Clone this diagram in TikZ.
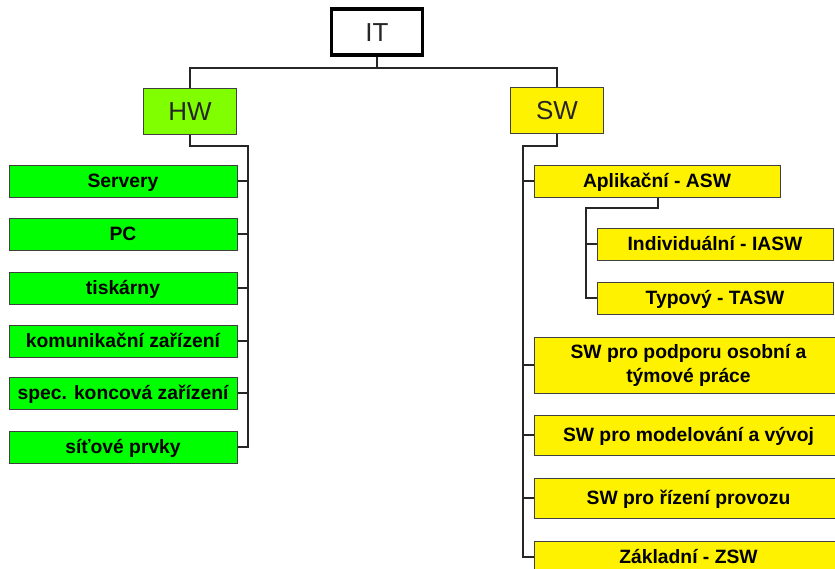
\documentclass[tikz,border=0pt]{standalone}
\usepackage{fontspec}
\setmainfont{Liberation Sans}
\begin{document}
\begin{tikzpicture}[x=1pt,y=-1pt,
  box/.style={draw=black!75,line width=1pt,inner sep=0pt,align=center},
  head/.style={box,font=\fontsize{26}{30}\selectfont,text=black!85,minimum width=93,minimum height=46,text height=18.6pt,text depth=0pt},
  oneline/.style={text height=13.8pt,text depth=0pt},
  leaf/.style={box,oneline,fill=green,font=\fontsize{19.3}{24}\selectfont\bfseries,minimum width=228,minimum height=32},
  sleaf/.style={box,fill=yellow,font=\fontsize{19.3}{24}\selectfont\bfseries,minimum height=32},
  conn/.style={draw=black!85,line width=1.7pt}]
\useasboundingbox (0,0) rectangle (835,568);
\clip (0,0) rectangle (835,568);
% heads
\node[head,fill=white,draw=black,line width=3.2pt,minimum width=91] (IT) at (377,32) {IT};
\node[head,fill={rgb,255:red,128;green,255;blue,0}] (HW) at (190,111) {HW};
\node[head,fill=yellow] (SW) at (557,110) {SW};
% HW leaves
\node[leaf] (l1) at (123,181) {Servery};
\node[leaf] (l2) at (123,234) {PC};
\node[leaf] (l3) at (123,288) {tiskárny};
\node[leaf] (l4) at (123,341) {komunikační zařízení};
\node[leaf] (l5) at (123,393) {spec. koncová zařízení};
\node[leaf] (l6) at (123,447) {síťové prvky};
% SW leaves
\node[sleaf,oneline,minimum width=246] (a) at (657,181) {Aplikační - ASW};
\node[sleaf,oneline,minimum width=236] (ind) at (715,244) {Individuální - IASW};
\node[sleaf,oneline,minimum width=236] (typ) at (715,298) {Typový - TASW};
\node[sleaf,minimum width=309,minimum height=56] (s1) at (688.5,365) {SW pro podporu osobní a\\týmové práce};
\node[sleaf,oneline,minimum width=309,minimum height=40] (s2) at (688.5,435) {SW pro modelování a vývoj};
\node[sleaf,oneline,minimum width=309,minimum height=40] (s3) at (688.5,498) {SW pro řízení provozu};
\node[sleaf,oneline,minimum width=309,minimum height=32] (s4) at (688.5,557) {Základní - ZSW};
% bus coordinates
\coordinate (itbus) at (377,68);
\coordinate (hwbus) at (248,146);
\coordinate (swbus) at (523,146);
\coordinate (abus) at (586,208);
% connectors
\draw[conn] (IT.south) -- (itbus);
\draw[conn] (HW.north) |- (itbus);
\draw[conn] (SW.north) |- (itbus);
\draw[conn] (HW.south) |- (hwbus) |- (l6.east);
\foreach \n in {l1,l2,l3,l4,l5} \draw[conn] (\n.east) -- (hwbus |- \n.east);
\draw[conn] (SW.south) |- (swbus) |- (s4.west);
\foreach \n in {a,s1,s2,s3} \draw[conn] (\n.west) -- (swbus |- \n.west);
\draw[conn] (a.south -| 658,0) |- (abus) |- (typ.west);
\draw[conn] (ind.west) -- (abus |- ind.west);
\end{tikzpicture}
\end{document}
